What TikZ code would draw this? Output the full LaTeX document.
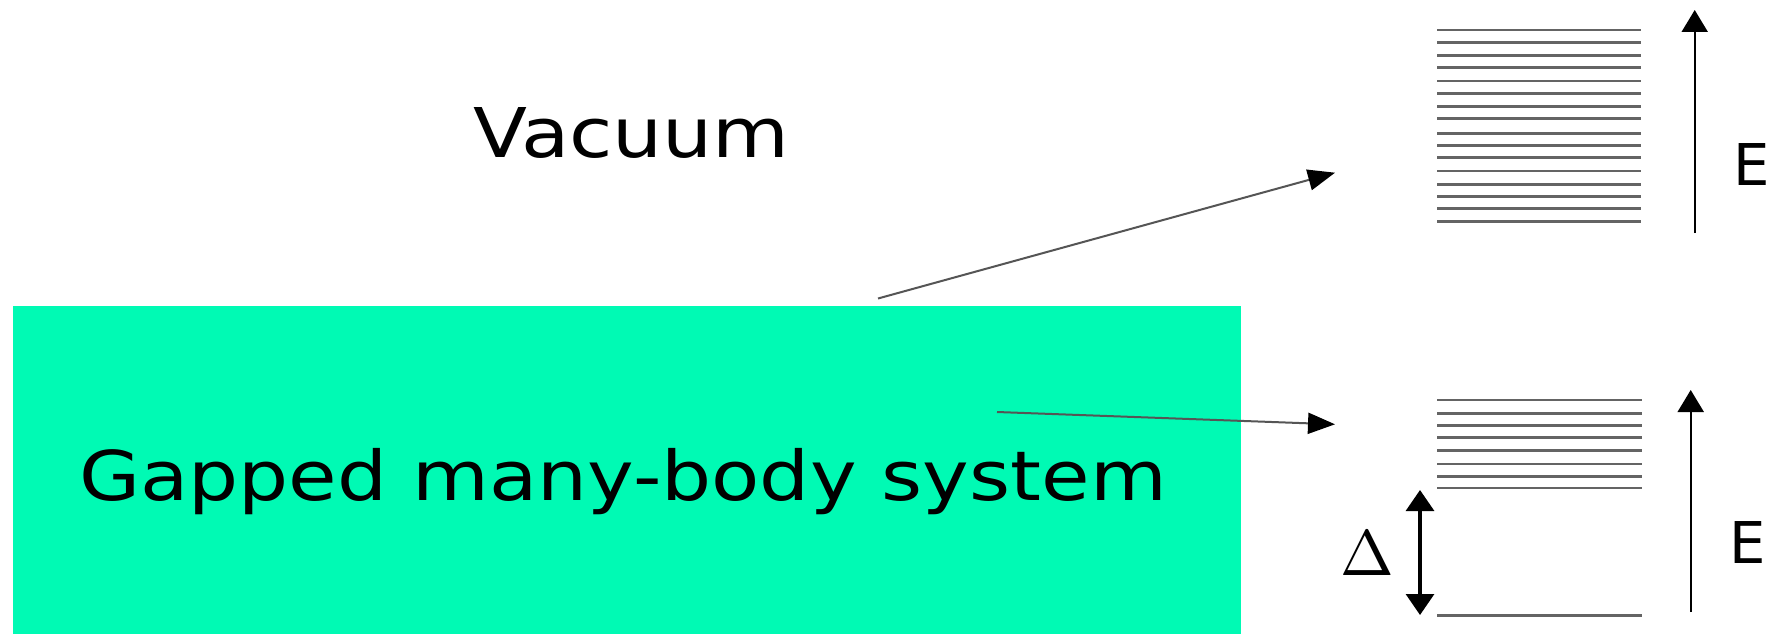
\documentclass[tikz,border=0pt]{standalone}
\usepackage{fontspec}
\setmainfont{DejaVu Sans}
\usetikzlibrary{arrows.meta}
\definecolor{sysgreen}{RGB}{0,250,180}
\definecolor{lvlgray}{RGB}{100,100,100}
\definecolor{conngray}{RGB}{85,85,85}
\begin{document}
\begin{tikzpicture}[x=1pt,y=-1pt,
  bigtext/.style={inner sep=0pt, anchor=base, font=\fontsize{68.6}{80}\selectfont, xscale=1.15},
  etext/.style={inner sep=0pt, anchor=base, font=\fontsize{57.6}{66}\selectfont},
  level/.style={draw=lvlgray, line width=2.6pt},
  connector/.style={draw=conngray, line width=2pt, -{Triangle[width=21pt,length=27pt,color=black]}},
  earrow/.style={draw=black, line width=2pt, -{Triangle[width=26pt,length=22pt]}},
  gaparrow/.style={draw=black, line width=3.2pt, {Triangle[width=28pt,length=21pt]}-{Triangle[width=28pt,length=21pt]}}]
\useasboundingbox (0,0) rectangle (1787,634);
\fill[white] (0,0) rectangle (1787,634);
% system box
\node[fill=sysgreen, inner sep=0pt, minimum width=1228pt, minimum height=329pt, anchor=north west] (sys) at (13,305.5) {};
\node[bigtext] (systxt) at (623,500) {Gapped many-body system};
\node[bigtext] (vac) at (631.5,157) {Vacuum};
% energy levels, vacuum
\foreach \y in {30,42.3,55.7,67.7,81,93.3,106.7,118.3,133.3,145.3,157.3,171,184.3,196.3,208.7,221.7}
  \draw[level] (1437,\y) -- (1641,\y);
% energy levels, gapped system
\foreach \y in {400,413.3,425.3,437.3,450.7,464,476.3,488,615.3}
  \draw[level] (1437,\y) -- (1642,\y);
% E axes
\coordinate (e1b) at (1694.7,233);
\coordinate (e1t) at (1694.7,10);
\draw[earrow] (e1b) -- (e1t);
\node[etext] (E1) at (1752,185) {E};
\coordinate (e2b) at (1690.7,612);
\coordinate (e2t) at (1690.7,390);
\draw[earrow] (e2b) -- (e2t);
\node[etext] (E2) at (1748,563.3) {E};
% gap
\coordinate (gt) at (1420,490);
\coordinate (gb) at (1420,615);
\draw[gaparrow] (gt) -- (gb);
\node[inner sep=0pt, anchor=base, scale=6.44] (delta) at (1367,575.7) {$\Delta$};
% connectors
\coordinate (c1s) at (878,298.5);
\coordinate (c1t) at (1335,172.7);
\draw[connector] (c1s) -- (c1t);
\coordinate (c2s) at (997,412);
\coordinate (c2t) at (1335,424.3);
\draw[connector] (c2s) -- (c2t);
\end{tikzpicture}
\end{document}
